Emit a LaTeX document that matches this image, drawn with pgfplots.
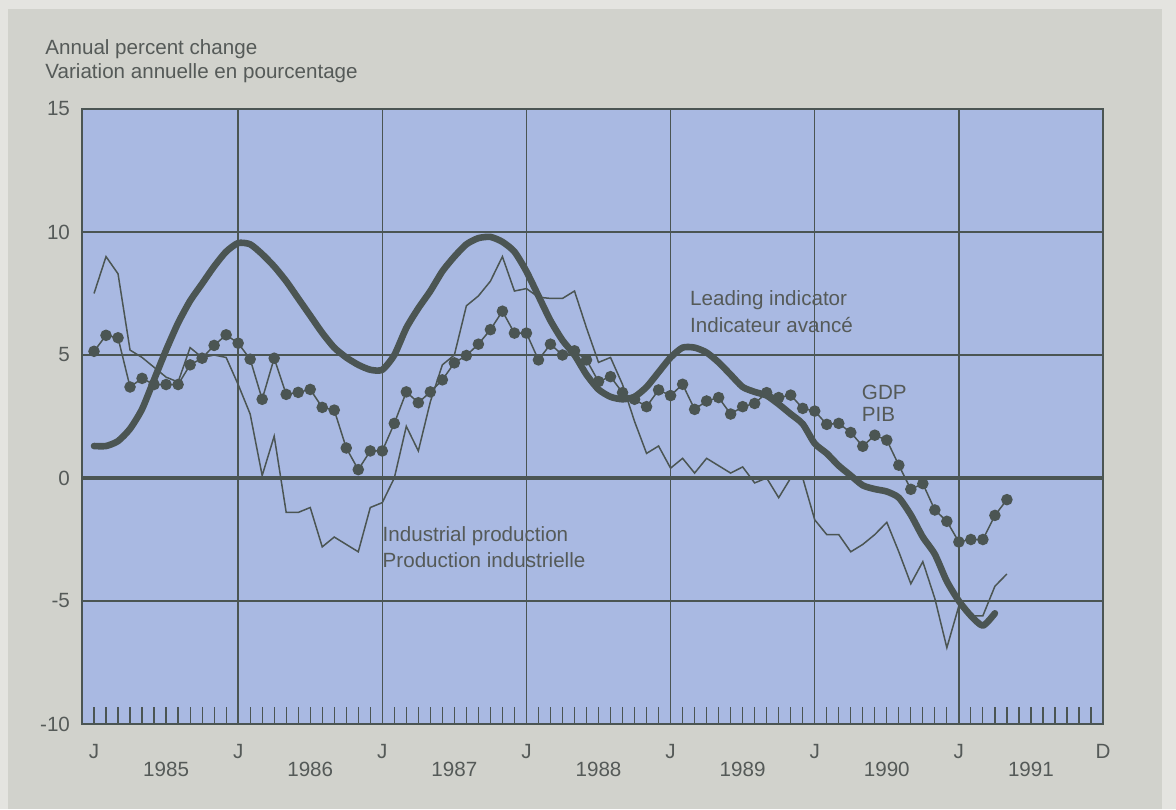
\documentclass[border=0pt]{standalone}
\usepackage{fontspec}
\setmainfont{Liberation Sans}
\usepackage{pgfplots}
\pgfplotsset{compat=1.18}
\usepackage{pgfplotstable}

\definecolor{outerbg}{HTML}{E4E4E0}
\definecolor{panelbg}{HTML}{D1D2CC}
\definecolor{plotbg}{HTML}{A9B9E2}
\definecolor{linecol}{HTML}{4B5553}
\definecolor{txtcol}{HTML}{555A58}

% month index: 0 = January 1985
\pgfplotstableread{
m v
0 1.3
1 1.3
2 1.5
3 2.0
4 2.8
5 4.0
6 5.2
7 6.3
8 7.2
9 7.9
10 8.6
11 9.2
12 9.55
13 9.5
14 9.1
15 8.6
16 8.0
17 7.3
18 6.6
19 5.9
20 5.3
21 4.9
22 4.6
23 4.4
24 4.4
25 5.0
26 6.1
27 6.9
28 7.6
29 8.4
30 9.0
31 9.5
32 9.75
33 9.8
34 9.6
35 9.2
36 8.4
37 7.4
38 6.4
39 5.6
40 5.0
41 4.2
42 3.6
43 3.3
44 3.2
45 3.3
46 3.7
47 4.3
48 4.9
49 5.3
50 5.3
51 5.1
52 4.7
53 4.2
54 3.7
55 3.5
56 3.35
57 3.0
58 2.6
59 2.2
60 1.4
61 1.0
62 0.5
63 0.1
64 -0.3
65 -0.45
66 -0.55
67 -0.8
68 -1.5
69 -2.4
70 -3.1
71 -4.2
72 -5.0
73 -5.6
74 -6.0
75 -5.5
}\leading

\pgfplotstableread{
m v
0 5.15
1 5.8
2 5.7
3 3.7
4 4.05
5 3.8
6 3.8
7 3.8
8 4.6
9 4.87
10 5.39
11 5.82
12 5.48
13 4.83
14 3.2
15 4.87
16 3.4
17 3.48
18 3.6
19 2.87
20 2.76
21 1.22
22 0.34
23 1.1
24 1.1
25 2.22
26 3.5
27 3.06
28 3.5
29 3.99
30 4.68
31 4.98
32 5.44
33 6.03
34 6.78
35 5.89
36 5.89
37 4.8
38 5.44
39 5.0
40 5.17
41 4.8
42 3.92
43 4.12
44 3.47
45 3.2
46 2.9
47 3.58
48 3.35
49 3.81
50 2.79
51 3.13
52 3.27
53 2.6
54 2.9
55 3.03
56 3.47
57 3.27
58 3.37
59 2.83
60 2.72
61 2.18
62 2.22
63 1.85
64 1.29
65 1.74
66 1.54
67 0.52
68 -0.46
69 -0.23
70 -1.3
71 -1.76
72 -2.6
73 -2.5
74 -2.5
75 -1.52
76 -0.88
}\gdp

\pgfplotstableread{
m v
0 7.5
1 9.0
2 8.3
3 5.2
4 4.9
5 4.5
6 4.1
7 3.9
8 5.3
9 4.9
10 5.0
11 4.9
12 3.8
13 2.6
14 0.1
15 1.7
16 -1.4
17 -1.4
18 -1.2
19 -2.8
20 -2.4
21 -2.7
22 -3.0
23 -1.2
24 -1.0
25 0.0
26 2.1
27 1.1
28 3.1
29 4.6
30 5.0
31 7.0
32 7.4
33 8.0
34 9.0
35 7.6
36 7.7
37 7.35
38 7.3
39 7.3
40 7.6
41 6.1
42 4.7
43 4.9
44 3.8
45 2.3
46 1.0
47 1.3
48 0.4
49 0.8
50 0.2
51 0.8
52 0.5
53 0.2
54 0.45
55 -0.2
56 0.0
57 -0.8
58 0.0
59 0.0
60 -1.7
61 -2.3
62 -2.3
63 -3.0
64 -2.7
65 -2.3
66 -1.8
67 -3.0
68 -4.3
69 -3.4
70 -4.9
71 -6.9
72 -5.2
73 -5.6
74 -5.6
75 -4.4
76 -3.9
}\indprod

\begin{document}
\begin{tikzpicture}[font=\fontsize{10.3pt}{12pt}\selectfont, every node/.style={text=txtcol}]
\fill[outerbg] (0,0) rectangle (588pt,404.5pt);
\fill[panelbg] (4pt,0) rectangle (581pt,400pt);
\node[anchor=west, inner sep=0] at (22.5pt,379.9pt) {Annual percent change};
\node[anchor=west, inner sep=0] at (22.5pt,367.9pt) {Variation annuelle en pourcentage};
\begin{axis}[
  at={(41pt,42.5pt)}, anchor=south west,
  width=510.5pt, height=307.5pt, scale only axis,
  xmin=-1, xmax=84, ymin=-10, ymax=15,
  clip=false,
  axis background/.style={fill=plotbg},
  axis line style={draw=linecol, line width=0.8pt},
  xtick={12,24,36,48,60,72},
  xticklabels={J,J,J,J,J,J},
  extra x ticks={0,84}, extra x tick labels={J,D},
  extra x tick style={grid=none},
  minor xtick={0,...,83},
  ytick={-10,-5,0,5,10,15},
  yticklabels={-10,-5,0,5,10,15},
  grid=major,
  major grid style={draw=linecol, line width=0.75pt},
  major tick length=0pt, minor tick length=8.5pt,
  tick style={draw=linecol, line width=0.6pt},
  xtick pos=bottom, ytick pos=left, tick align=inside,
  xticklabel style={yshift=-6.5pt, text=txtcol},
  yticklabel style={xshift=-2.5pt, text=txtcol},
]
\addplot[linecol, line width=1.8pt] coordinates {(-1,0) (84,0)};
\addplot[linecol, line width=0.75pt] table[x=m, y=v] {\indprod};
\addplot[linecol, line width=3.3pt, smooth, tension=0.4, line cap=round, line join=round] table[x=m, y=v] {\leading};
\addplot[linecol, line width=0.75pt, mark=*, mark size=2.5pt, mark options={fill=linecol, draw=linecol}] table[x=m, y=v] {\gdp};
\node[anchor=west, inner sep=0] at (axis cs:49.6,7.24) {Leading indicator};
\node[anchor=west, inner sep=0] at (axis cs:49.6,6.22) {Indicateur avancé};
\node[anchor=west, inner sep=0] at (axis cs:63.9,3.48) {GDP};
\node[anchor=west, inner sep=0] at (axis cs:63.9,2.57) {PIB};
\node[anchor=west, inner sep=0] at (axis cs:24,-2.37) {Industrial production};
\node[anchor=west, inner sep=0] at (axis cs:24,-3.32) {Production industrielle};
\node at (axis cs:6,-10) [yshift=-22.5pt] {1985};
\node at (axis cs:18,-10) [yshift=-22.5pt] {1986};
\node at (axis cs:30,-10) [yshift=-22.5pt] {1987};
\node at (axis cs:42,-10) [yshift=-22.5pt] {1988};
\node at (axis cs:54,-10) [yshift=-22.5pt] {1989};
\node at (axis cs:66,-10) [yshift=-22.5pt] {1990};
\node at (axis cs:78,-10) [yshift=-22.5pt] {1991};
\end{axis}
\end{tikzpicture}
\end{document}
